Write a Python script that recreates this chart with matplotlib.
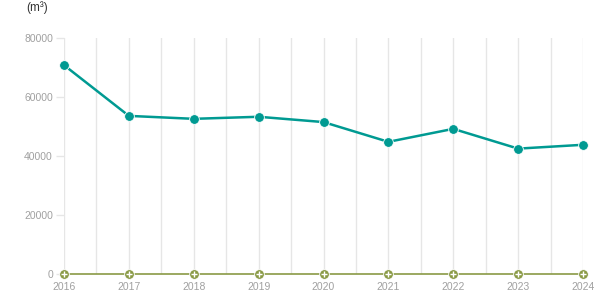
import matplotlib
matplotlib.use('Agg')
import matplotlib.pyplot as plt

years = [2016, 2017, 2018, 2019, 2020, 2021, 2022, 2023, 2024]
volume = [70800, 53600, 52600, 53300, 51500, 44800, 49200, 42500, 43800]
other = [0, 0, 0, 0, 0, 0, 0, 0, 0]
y_ticks = [0, 20000, 40000, 60000, 80000]

plt.rcParams['font.family'] = ['Liberation Sans', 'DejaVu Sans']

fig = plt.figure(figsize=(6.15, 3.05), dpi=100)
ax = fig.add_axes([64 / 615, 31 / 305, 519 / 615, 236 / 305])

# vertical grid at each year and halfway between
for i in range(len(years)):
    ax.axvline(years[i], color='#e6e6e6', lw=1, zorder=0)
    if i < len(years) - 1:
        ax.axvline(years[i] + 0.5, color='#e6e6e6', lw=1, zorder=0)

ax.plot(years, volume, color='#009a92', lw=1.8, marker='o', markersize=7,
        markeredgecolor='white', markeredgewidth=0.6, clip_on=False, zorder=3)
ax.plot(years, other, color='#8a9a45', lw=1.2, marker='o', markersize=7,
        markeredgecolor='white', markeredgewidth=0.6, clip_on=False, zorder=3)
ax.plot(years, other, ls='none', marker='+', markersize=4.5, color='white',
        markeredgewidth=1, clip_on=False, zorder=4)

ax.set_xlim(2016, 2024)
ax.set_ylim(0, 80000)
ax.set_xticks(years)
ax.set_yticks(y_ticks)
ax.tick_params(axis='x', length=0, pad=6, labelsize=7.5, labelcolor='#a0a0a0')
ax.tick_params(axis='y', length=6, width=1, color='#e6e6e6', pad=2,
               labelsize=7.5, labelcolor='#a0a0a0')
for s in ax.spines.values():
    s.set_visible(False)

fig.text(26 / 615, 1 - 8 / 305, '(m³)', fontsize=8.5, color='#333333', va='center')

fig.savefig('out.png', dpi=100)
